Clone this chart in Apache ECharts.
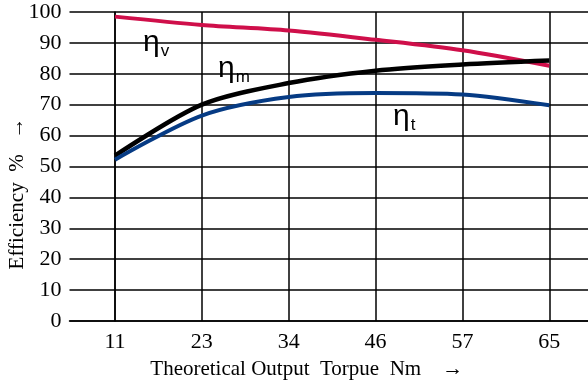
<!DOCTYPE html>
<html><head><meta charset="utf-8">
<script src="https://cdn.jsdelivr.net/npm/echarts@6/dist/echarts.min.js"></script>
<style>html,body{margin:0;padding:0;background:#fff}#c{width:588px;height:386px}</style>
</head><body><div id="c"></div>
<script>
const categories = ['11', '23', '34', '46', '57', '65'];
const etaV = [98.5, 95.8, 94.0, 91.0, 87.6, 82.6];
const etaM = [53.5, 70.0, 77.0, 81.0, 83.0, 84.3];
const etaT = [52.2, 66.5, 72.5, 73.8, 73.3, 69.8];
const yTicks = [0, 10, 20, 30, 40, 50, 60, 70, 80, 90, 100];

const idx = categories.map((c, i) => i);
const toPts = arr => arr.map((v, i) => [i, v]);
const serif = 'Liberation Serif';
const sans = 'Liberation Sans';
const etaLabel = (left, top, sub) => ({
  type: 'text', left: left, top: top, style: { rich: {
    a: { fontFamily: sans, fontSize: 30, fill: '#000' },
    b: { fontFamily: sans, fontSize: 17, fill: '#000', padding: [16, 0, 0, 1] } },
    text: '{a|\u03b7}{b|' + sub + '}' } });
const chart = echarts.init(document.getElementById('c'));
chart.setOption({
  animation: false,
  grid: { left: 69.5, top: 12, right: 0, bottom: 65, outerBoundsMode: 'none', containLabel: false },
  xAxis: {
    type: 'value', min: -0.524, max: 5.446,
    name: 'Theoretical Output  Torpue  Nm    \u2192',
    nameLocation: 'middle', nameGap: 38,
    nameTextStyle: { fontFamily: serif, fontSize: 21, color: '#000', padding: [0, 44, 0, 0] },
    axisLine: { show: true, lineStyle: { color: '#000', width: 1.5 } },
    axisTick: { show: false },
    splitLine: { show: false },
    axisLabel: {
      customValues: idx,
      formatter: v => categories[Math.round(v)],
      fontFamily: serif, fontSize: 22, color: '#000', margin: 10
    }
  },
  yAxis: {
    type: 'value', min: 0, max: 100, interval: 10,
    name: 'Efficiency  %   \u2192',
    nameLocation: 'middle', nameGap: 42, nameRotate: 90, nameMoveOverlap: false,
    nameTextStyle: { fontFamily: serif, fontSize: 21, color: '#000', padding: [0, 54, 0, 0] },
    axisLine: { show: true, lineStyle: { color: '#000', width: 1.5 } },
    axisTick: { show: false },
    splitLine: { show: true, lineStyle: { color: '#000', width: 1.5 } },
    axisLabel: { fontFamily: serif, fontSize: 22, color: '#000', margin: 8,
      customValues: yTicks }
  },
  series: [
    { type: 'line', data: toPts(etaV), smooth: 0.3, symbol: 'none',
      lineStyle: { color: '#cf0f4a', width: 4 }, z: 3,
      markLine: { silent: true, symbol: 'none', label: { show: false },
        lineStyle: { color: '#000', width: 1.5, type: 'solid' },
        data: idx.map(i => ({ xAxis: i })), z: 1 } },
    { type: 'line', data: toPts(etaM), smooth: 0.3, symbol: 'none',
      lineStyle: { color: '#000', width: 4.5 }, z: 4 },
    { type: 'line', data: toPts(etaT), smooth: 0.3, symbol: 'none',
      lineStyle: { color: '#063b84', width: 4 }, z: 5 }
  ],
  graphic: [
    etaLabel(143, 28, 'v'),
    etaLabel(218, 54, 'm'),
    etaLabel(393, 102, 't')
  ]
});
</script></body></html>
